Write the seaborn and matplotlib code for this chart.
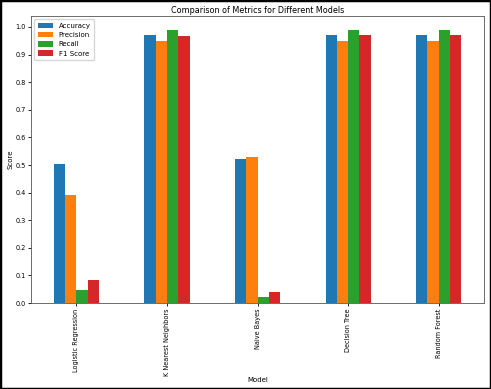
import pandas as pd
import matplotlib.pyplot as plt
import seaborn as sns
from matplotlib.patches import Rectangle

models = ["Logistic Regression", "K Nearest Neighbors", "Naive Bayes", "Decision Tree", "Random Forest"]
metrics = ["Accuracy", "Precision", "Recall", "F1 Score"]
accuracy = [0.505, 0.97, 0.52, 0.97, 0.97]
precision = [0.39, 0.95, 0.53, 0.95, 0.95]
recall = [0.048, 0.988, 0.021, 0.99, 0.99]
f1_score = [0.085, 0.967, 0.041, 0.97, 0.97]

df = pd.DataFrame({"Model": models, "Accuracy": accuracy, "Precision": precision,
                   "Recall": recall, "F1 Score": f1_score})
long = df.melt(id_vars="Model", var_name="Metric", value_name="Score")

fig = plt.figure(figsize=(4.91, 3.89), dpi=100)
ax = fig.add_axes([0.063, 0.221, 0.923, 0.738])
sns.barplot(data=long, x="Model", y="Score", hue="Metric", hue_order=metrics,
            palette=["#1f77b4", "#ff7f0e", "#2ca02c", "#d62728"], saturation=1,
            width=0.5, ax=ax)

ax.set_title("Comparison of Metrics for Different Models", fontsize=5.8, pad=2)
ax.set_xlabel("Model", fontsize=5, labelpad=1)
ax.set_ylabel("Score", fontsize=5, labelpad=1)
ax.set_ylim(0, 1.04)
ax.set_yticks([i / 10 for i in range(11)])
ax.tick_params(labelsize=4.7, length=2.5, width=0.6, pad=1.5)
plt.setp(ax.get_xticklabels(), rotation=90)
for s in ax.spines.values():
    s.set_linewidth(0.6)
    s.set_color("#555555")

handles, labels = ax.get_legend_handles_labels()
ax.legend(handles, labels, loc="upper left", fontsize=5, frameon=True,
          handlelength=2.2, handleheight=0.8, borderpad=0.5, labelspacing=0.45)

fig.patches.append(Rectangle((0, 0), 1, 1, transform=fig.transFigure, fill=False,
                             edgecolor="black", linewidth=2.5))
plt.savefig("out.png", dpi=100)
